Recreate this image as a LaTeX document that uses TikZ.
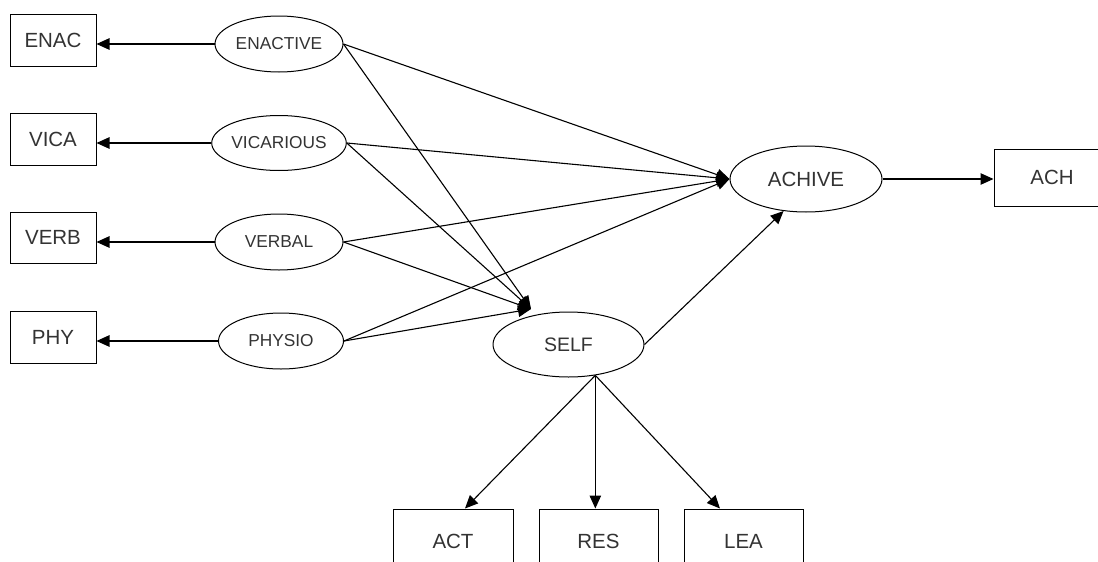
\documentclass[tikz,border=0pt]{standalone}
\usepackage{fontspec}
\setmainfont{Liberation Sans}
\usetikzlibrary{arrows.meta,shapes.geometric}
\definecolor{txt}{HTML}{333333}
\begin{document}
\begin{tikzpicture}[x=1pt,y=-1pt,
  obs/.style={draw=black, line width=1pt, rectangle, inner sep=0pt,
    text=txt, font=\fontsize{20.5}{22}\selectfont},
  lat/.style={draw=black, line width=1pt, ellipse, inner sep=0pt,
    text=txt, font=\fontsize{17.3}{19}\selectfont},
  path/.style={draw=black, line width=1.1pt,
    -{Triangle[length=13pt,width=11.5pt]}}]
\useasboundingbox (0,0) rectangle (1098,562);
\clip (0,0) rectangle (1098,562);
\fill[white] (0,0) rectangle (1098,562);

% indicator boxes on the left
\node[obs, minimum width=86pt, minimum height=52pt] (enac) at (53,40)    {ENAC};
\node[obs, minimum width=86pt, minimum height=52pt] (vica) at (53,139)   {VICA};
\node[obs, minimum width=86pt, minimum height=51pt] (verb) at (53,237.5) {VERB};
\node[obs, minimum width=86pt, minimum height=52pt] (phy)  at (53,337)   {PHY};

% source latent variables
\node[lat, minimum width=128pt, minimum height=56pt] (enactive)  at (279,44)  {ENACTIVE};
\node[lat, minimum width=128pt, minimum height=55pt] (vicarious) at (279,143) {VICARIOUS};
\node[lat, minimum width=128pt, minimum height=56pt] (verbal)    at (279,242) {VERBAL};
\node[lat, minimum width=125pt, minimum height=56pt] (physio)    at (281,341) {PHYSIO};

% mediator and outcome
\node[lat, minimum width=151pt, minimum height=65pt,
      font=\fontsize{19.5}{21}\selectfont] (self) at (568.5,344.5) {SELF};
\node[lat, minimum width=152pt, minimum height=66pt,
      font=\fontsize{20.5}{22}\selectfont] (achive) at (806,179) {ACHIVE};
\node[obs, minimum width=116pt, minimum height=57pt] (ach) at (1052,177.5) {ACH};

% indicator boxes of SELF
\node[obs, minimum width=120pt, minimum height=64pt] (act) at (453,541)   {ACT};
\node[obs, minimum width=119pt, minimum height=64pt] (res) at (598.5,541) {RES};
\node[obs, minimum width=119pt, minimum height=64pt] (lea) at (743.5,541) {LEA};

\coordinate (selfin) at (531,309);

% measurement paths
\foreach \l/\o in {enactive/enac, vicarious/vica, verbal/verb, physio/phy}
  \draw[path] (\l.west) -- (\l.west -| \o.east);

% structural paths
\foreach \l in {enactive, vicarious, verbal, physio} {
  \draw[path] (\l.east) -- (achive.west);
  \draw[path] (\l.east) -- (selfin);
}
\draw[path] (self.east) -- (achive.235);
\draw[path] (achive.east) -- (achive.east -| ach.west);

% SELF indicators
\draw[path] (self.311) -- ([xshift=12pt]act.north);
\draw[path] (self.311) -- (self.311 |- res.north);
\draw[path] (self.311) -- ([xshift=-23.5pt]lea.north);
\end{tikzpicture}
\end{document}
